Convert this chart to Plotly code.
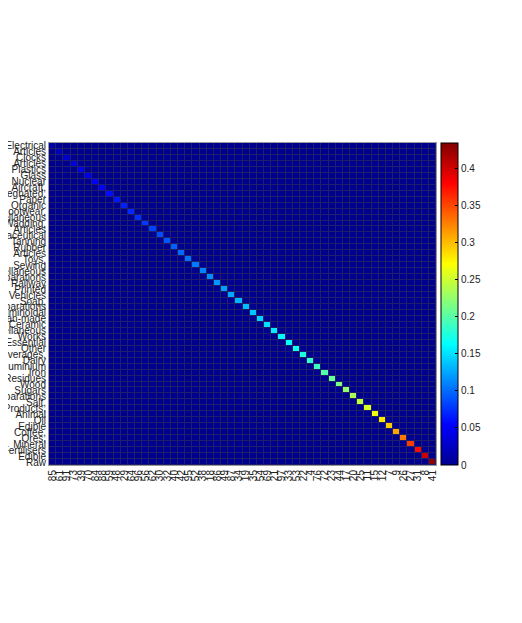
import numpy as np
import plotly.graph_objects as go

# row labels (top to bottom) and column codes (left to right)
row_labels = [
    "Electrical", "Articles", "Clocks", "Articles", "Plastics", "Glass",
    "Nuclear", "Aircraft,", "Impregnated,", "Paper", "Organic", "Footwear,",
    "Miscellaneous", "Wadding,", "Articles", "Pharmaceutical", "Tanning",
    "Rubber", "Articles", "Toys,", "Sewing", "Miscellaneous", "Preparations",
    "Railway", "Printed", "Vehicles", "Soap,", "Preparations", "Albuminoidal",
    "Man-made", "Ceramic", "Miscellaneous", "Works", "Essential", "Other",
    "Beverages,", "Dairy", "Aluminium", "Iron", "Residues", "Wood", "Sugars",
    "Preparations", "Salt,", "Products,", "Animal", "Oil", "Edible",
    "Coffee,", "Ores,", "Mineral", "Fertilisers", "Edible", "Raw",
]
col_codes = [
    "85", "61", "91", "73", "39", "70", "84", "88", "59", "48", "29", "64",
    "96", "56", "62", "30", "32", "40", "42", "95", "52", "38", "18", "86",
    "49", "87", "34", "19", "35", "54", "69", "21", "97", "33", "53", "22",
    "4", "76", "72", "23", "44", "17", "20", "25", "11", "15", "12", "7",
    "9", "26", "27", "31", "8", "41",
]
# diagonal share values
diag_values = [
    0.012, 0.022, 0.030, 0.036, 0.042, 0.047, 0.051, 0.055, 0.059, 0.063,
    0.067, 0.071, 0.075, 0.079, 0.083, 0.087, 0.091, 0.095, 0.099, 0.103,
    0.107, 0.111, 0.115, 0.119, 0.123, 0.127, 0.131, 0.135, 0.139, 0.144,
    0.150, 0.155, 0.160, 0.165, 0.170, 0.176, 0.183, 0.190, 0.198, 0.207,
    0.216, 0.225, 0.235, 0.245, 0.255, 0.265, 0.282, 0.295, 0.310, 0.330,
    0.355, 0.377, 0.402, 0.430,
]
cbar_ticks = [0, 0.05, 0.1, 0.15, 0.2, 0.25, 0.3, 0.35, 0.4]

n = len(row_labels)
z = np.zeros((n, n))
for i, v in enumerate(diag_values):
    z[i, i] = v

jet = [
    [0.0, "#00008F"], [0.125, "#0000FF"], [0.375, "#00FFFF"],
    [0.625, "#FFFF00"], [0.875, "#FF0000"], [1.0, "#800000"],
]

fig = go.Figure(
    go.Heatmap(
        z=z,
        x=list(range(n)),
        y=list(range(n)),
        colorscale=jet,
        zmin=0,
        zmax=0.435,
        xgap=1,
        ygap=1,
        colorbar=dict(
            x=1.013, xanchor="left", y=0.5, yanchor="middle",
            len=1, lenmode="fraction", thickness=17, xpad=0, ypad=0,
            outlinecolor="black", outlinewidth=1,
            tickvals=cbar_ticks, ticktext=[str(t) for t in cbar_ticks],
            ticks="inside", ticklen=3, tickcolor="black",
            tickfont=dict(family="Liberation Sans", size=10, color="#222"),
        ),
    )
)

# the page body adds an 8 px margin, so the plot box is shifted up/left by 8
fig.update_layout(
    width=522,
    height=623,
    margin=dict(l=41, r=94, t=135, b=166),
    paper_bgcolor="white",
    plot_bgcolor="#1f1f6b",
    font=dict(family="Liberation Sans", size=10, color="#222"),
)
fig.update_xaxes(
    tickvals=list(range(n)), ticktext=col_codes, tickangle=-90,
    range=[-0.5, n - 0.5], showgrid=False, zeroline=False,
    showline=True, linecolor="#999", mirror=True, automargin=False,
    tickfont=dict(size=10, color="#222"),
)
fig.update_yaxes(
    tickvals=list(range(n)), ticktext=row_labels,
    range=[n - 0.5, -0.5], showgrid=False, zeroline=False,
    showline=True, linecolor="#999", mirror=True, automargin=False,
    tickfont=dict(size=10, color="#222"),
)

fig.write_html("out.html")
